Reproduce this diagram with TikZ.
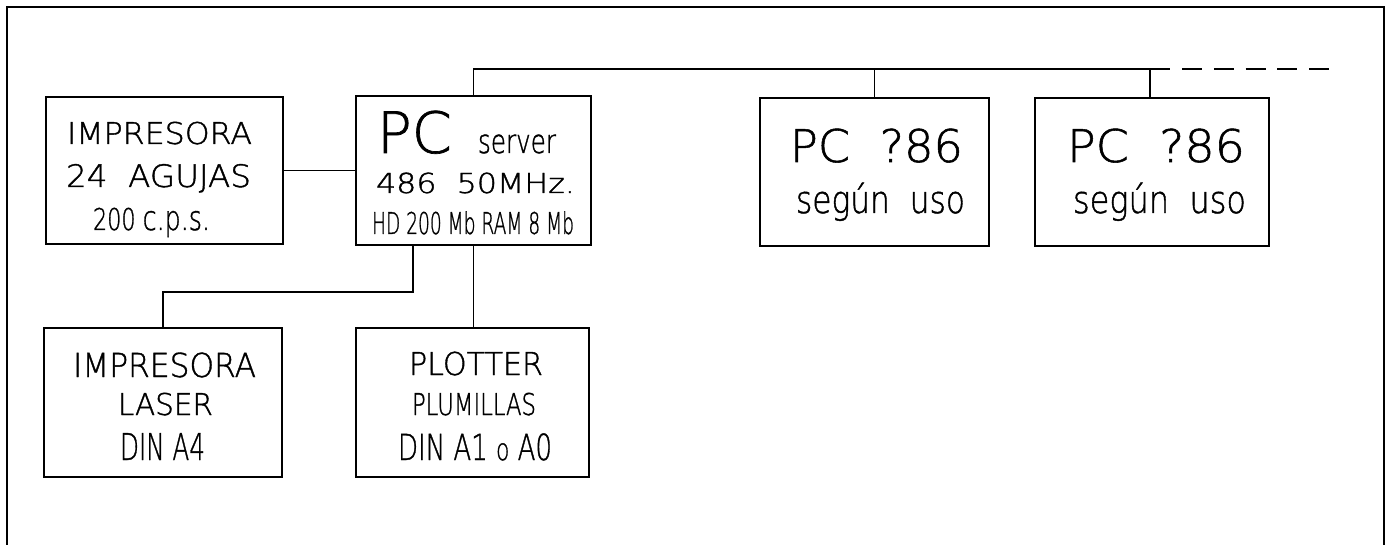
\documentclass[tikz,border=0pt]{standalone}
\usepackage{fontspec}
\usepackage{graphicx}
\newfontfamily\cadfont{DejaVu Sans ExtraLight}[FakeBold=1.2]
\newcommand\cadtxt[3]{\resizebox{#1pt}{\height}{\fontsize{#2}{#2}\selectfont\cadfont #3}}
\begin{document}
\begin{tikzpicture}[x=1pt,y=-1pt,
  line width=1.7pt,
  box/.style={draw, line width=1.7pt, inner sep=0, outer sep=0},
  txt/.style={anchor=base, inner sep=0, outer sep=0},
  wire/.style={line width=1.5pt},
  dashwire/.style={line width=1.5pt, dash pattern=on 20pt off 11.75pt}]
\useasboundingbox (0,0) rectangle (1391,545);
% frame
\coordinate (f1) at (7,545);
\coordinate (f2) at (7,7);
\coordinate (f3) at (1384,7);
\coordinate (f4) at (1384,545);
\draw[line width=1.8pt] (f1) -- (f2) -- (f3) -- (f4);
% boxes
\node[box, minimum width=237pt, minimum height=147pt] (imp) at (164.5,170.5) {};
\node[box, minimum width=235pt, minimum height=149pt] (pc) at (473.5,170.5) {};
\node[box, minimum width=229pt, minimum height=148pt] (pc1) at (874.5,172) {};
\node[box, minimum width=234pt, minimum height=148pt] (pc2) at (1152,172) {};
\node[box, minimum width=238pt, minimum height=149pt] (laser) at (163,402.5) {};
\node[box, minimum width=233pt, minimum height=149pt] (plot) at (472.5,402.5) {};
% texts: impresora 24 agujas
\node[txt] (i1) at (159.5,144) {\cadtxt{185}{30}{IMPRESORA}};
\node[txt] (i2) at (158.5,187) {\cadtxt{185}{31}{24\ \ AGUJAS}};
\node[txt] (i3) at (151.5,230) {\cadtxt{117}{30}{200 {\fontsize{34}{34}\selectfont c.p.s.}}};
% pc server
\node[txt] (s1) at (414.5,153) {\cadtxt{75}{57}{PC}};
\node[txt] (s2) at (517,153) {\cadtxt{78}{33}{server}};
\node[txt] (s3) at (475.5,193) {\cadtxt{199}{27.5}{486\ \ 50MHz.}};
\node[txt] (s4) at (473,234) {\cadtxt{202}{30}{HD 200 Mb RAM 8 Mb}};
% pc ?86
\node[txt] (a1) at (876.5,162) {\cadtxt{173}{45}{PC\ \ ?86}};
\node[txt] (a2) at (880.5,213) {\cadtxt{169}{38}{según\ \ uso}};
\node[txt] (b1) at (1156,162) {\cadtxt{178}{45}{PC\ \ ?86}};
\node[txt] (b2) at (1159.5,213) {\cadtxt{173}{38}{según\ \ uso}};
% laser
\node[txt] (l1) at (164.5,377) {\cadtxt{183}{33}{IMPRESORA}};
\node[txt] (l2) at (165.5,415) {\cadtxt{95}{30}{LASER}};
\node[txt] (l3) at (162.5,460) {\cadtxt{85}{37}{DIN\ A4}};
% plotter
\node[txt] (p1) at (476,375) {\cadtxt{134}{31.5}{PLOTTER}};
\node[txt] (p2) at (474,415) {\cadtxt{124}{30}{PLUMILLAS}};
\node[txt] (p3) at (475,460) {\cadtxt{154}{36}{DIN A1 {\fontsize{30}{30}\selectfont o} A0}};
% connectors
\coordinate (bus0) at (473.5,69);
\coordinate (busend) at (1170,69);
\coordinate (dash0) at (1182,69);
\coordinate (dash1) at (1333,69);
\draw[wire] (imp.east) -- (pc.west);
\draw[wire] (pc.north) -- (bus0) -- (busend);
\draw[dashwire] (dash0) -- (dash1);
\draw[wire] (pc1.north) -- (pc1.north |- bus0);
\draw[wire] ([xshift=-2pt]pc2.north) -- ([xshift=-2pt]pc2.north |- bus0);
\coordinate (lj) at (413,292);
\draw[wire] (pc.south -| lj) -- (lj) -| (laser.north);
\draw[wire] (pc.south) -- (pc.south |- plot.north);
\end{tikzpicture}
\end{document}
